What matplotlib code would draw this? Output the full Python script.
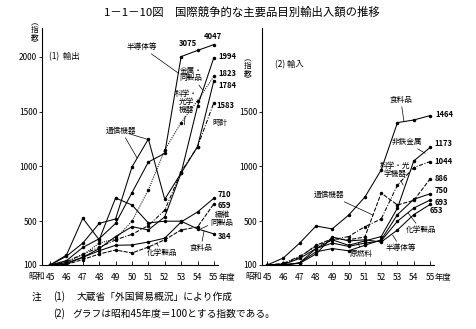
import numpy as np
import matplotlib
matplotlib.use("Agg")
import matplotlib.pyplot as plt

plt.rcParams["font.family"] = ["Noto Sans CJK JP", "DejaVu Sans"]

# fiscal years (Showa 45 = 1970), index with 45 = 100
years = [45, 46, 47, 48, 49, 50, 51, 52, 53, 54, 55]
year_labels = ["45", "46", "47", "48", "49", "50", "51", "52", "53", "54", "55"]
export_ticks = [100, 500, 1000, 1500, 2000]
import_ticks = [100, 500, 1000, 1500]

# (1) exports
exp_semicon = [100, 140, 260, 340, 480, 760, 1040, 1120, 2050, 3075, 4047]
exp_metal = [100, 110, 170, 250, 360, 450, 420, 540, 940, 1550, 1994]
exp_optical = [100, 130, 190, 300, 340, 500, 785, 1150, 1400, 1600, 1823]
exp_telecom = [100, 180, 300, 480, 520, 995, 1250, 700, 940, 1180, 1784]
exp_watch = [100, 130, 200, 260, 330, 380, 460, 600, 950, 1180, 1583]
exp_chemical = [100, 120, 170, 230, 280, 283, 310, 345, 493, 584, 710]
exp_textile = [100, 105, 150, 200, 237, 210, 264, 330, 420, 447, 659]
exp_food = [100, 190, 527, 330, 712, 648, 484, 500, 500, 430, 384]

# (2) imports
imp_food = [100, 164, 300, 456, 430, 555, 720, 968, 1400, 1424, 1464]
imp_nonferrous = [100, 95, 120, 250, 330, 280, 320, 360, 620, 1050, 1173]
imp_optical = [100, 115, 180, 270, 330, 360, 450, 520, 830, 990, 1044]
imp_telecom = [100, 110, 170, 280, 340, 330, 356, 757, 648, 690, 886]
imp_chemical = [100, 105, 160, 250, 300, 270, 300, 320, 500, 620, 693]
imp_semicon = [100, 100, 120, 220, 250, 230, 280, 330, 560, 700, 750]
imp_fuel = [100, 105, 115, 200, 356, 320, 330, 310, 420, 560, 653]

# values above 2000 are squeezed into a narrow band at the top
BREAK = 2000
SQUEEZE = 0.055


def squeeze(v):
    v = np.asarray(v, dtype=float)
    return np.where(v > BREAK, BREAK + (v - BREAK) * SQUEEZE, v)


def unsqueeze(v):
    v = np.asarray(v, dtype=float)
    return np.where(v > BREAK, BREAK + (v - BREAK) / SQUEEZE, v)


LINE = dict(color="black", lw=0.75, marker="o", ms=1.5)
SMALL = 5.5
NUM = dict(fontsize=5.5, fontweight="bold", textcoords="offset points",
           ha="left", va="center")
LEADER = dict(arrowstyle="-", lw=0.5, color="black", shrinkA=0, shrinkB=0)
TICK_FS = 6


def style_axes(ax, ticks):
    for side in ("top", "right"):
        ax.spines[side].set_visible(False)
    ax.spines["left"].set_linewidth(0.8)
    ax.spines["bottom"].set_linewidth(0.8)
    ax.set_yticks(ticks)
    ax.set_yticklabels([str(t) for t in ticks])
    ax.set_xticks(years)
    ax.set_xticklabels(year_labels)
    ax.tick_params(axis="y", direction="out", length=2.5, width=0.6,
                   labelsize=TICK_FS, pad=1)
    ax.tick_params(axis="x", direction="in", length=3, width=0.6,
                   labelsize=TICK_FS, pad=6)
    ax.minorticks_off()
    trans = ax.get_xaxis_transform()
    ax.text(44.68, -0.05, "昭和", transform=trans,
            ha="right", va="center", fontsize=TICK_FS)
    ax.text(55.3, -0.05, "年度", transform=trans,
            ha="left", va="center", fontsize=TICK_FS)


def end_label(ax, text, value, dx, dy, x=55, ha="left"):
    ax.annotate(text, xy=(x, value), xytext=(dx, dy), **{**NUM, "ha": ha})


def note(ax, text, xytext, xy=None, **kw):
    kw.setdefault("fontsize", SMALL)
    kw.setdefault("ha", "center")
    kw.setdefault("va", "center")
    if xy is None:
        ax.text(xytext[0], xytext[1], text, **kw)
    else:
        ax.annotate(text, xy=xy, xytext=xytext, arrowprops=LEADER, **kw)


fig = plt.figure(figsize=(4.76, 3.29), dpi=100)

# ---- (1) exports ----
ax1 = fig.add_axes([42 / 476, 64 / 329, 176 / 476, 237 / 329])
ax1.set_yscale("function", functions=(squeeze, unsqueeze))
ax1.plot(years, exp_semicon, "-", **LINE)
ax1.plot(years, exp_metal, "-", **LINE)
ax1.plot(years, exp_optical, linestyle=(0, (1, 1.2)), **LINE)
ax1.plot(years, exp_telecom, "-", **LINE)
ax1.plot(years, exp_watch, linestyle=(0, (4, 1.5, 1, 1.5)), **LINE)
ax1.plot(years, exp_chemical, "-", **LINE)
ax1.plot(years, exp_textile, linestyle=(0, (4, 1.2)), **LINE)
ax1.plot(years, exp_food, "-", **LINE)
ax1.set_xlim(44.51, 55.25)
ax1.set_ylim(100, float(unsqueeze(2264)))
style_axes(ax1, export_ticks)

end_label(ax1, "4047", exp_semicon[-1], -1, 6, ha="center")
end_label(ax1, "3075", exp_semicon[-2], -7, 5, x=54, ha="center")
end_label(ax1, "1994", exp_metal[-1], 3, 0.5)
end_label(ax1, "1823", exp_optical[-1], 3, 2)
end_label(ax1, "1784", exp_telecom[-1], 3, -3.5)
end_label(ax1, "1583", exp_watch[-1], 2, -2)
end_label(ax1, "710", exp_chemical[-1], 3, 3)
end_label(ax1, "659", exp_textile[-1], 3, -1)
end_label(ax1, "384", exp_food[-1], 3, -2)

note(ax1, "(1)  輸出", (44.95, 2000), ha="left", fontsize=6)
note(ax1, "半導体等", (50.6, float(unsqueeze(2090))), xy=(52.85, 1850))
note(ax1, "金属・\n同製品", (53.6, 1840), xy=(54.3, 1700),
     linespacing=0.95)
note(ax1, "科学・\n光学\n機器", (53.3, 1590), xy=(53.2, 1380),
     linespacing=0.95)
note(ax1, "時計", (55.4, 1400))
note(ax1, "通信機器", (49.36, 1324), xy=(50.3, 1080))
note(ax1, "", (49.8, 1300), xy=(51.0, 1245))
note(ax1, "繊維\n同製品", (55.5, 520), xy=(54.2, 430), linespacing=0.95)
note(ax1, "化学製品", (51.85, 210), xy=(51.5, 300))
note(ax1, "食料品", (54.2, 255), xy=(54.4, 410))

# ---- (2) imports ----
ax2 = fig.add_axes([262 / 476, 64 / 329, 172 / 476, 237 / 329])
ax2.plot(years, imp_food, "-", **LINE)
ax2.plot(years, imp_nonferrous, "-", **LINE)
ax2.plot(years, imp_optical, linestyle=(0, (4, 1.5, 1, 1.5)), **LINE)
ax2.plot(years, imp_telecom, linestyle=(0, (4, 1.5)), **LINE)
ax2.plot(years, imp_chemical, "-", **LINE)
ax2.plot(years, imp_semicon, "-", **LINE)
ax2.plot(years, imp_fuel, "-", **LINE)
ax2.set_xlim(44.69, 55.24)
ax2.set_ylim(100, 2264)
style_axes(ax2, import_ticks)

end_label(ax2, "1464", imp_food[-1], 3.6, 0.7)
end_label(ax2, "1173", imp_nonferrous[-1], 3, 3)
end_label(ax2, "1044", imp_optical[-1], 3, 0)
end_label(ax2, "886", imp_telecom[-1], 3, 0)
end_label(ax2, "750", imp_semicon[-1], 3, 2.5)
end_label(ax2, "693", imp_chemical[-1], 3, -1.5)
end_label(ax2, "653", imp_fuel[-1], 0, -4.5)

note(ax2, "(2) 輸入", (45.5, 1926), ha="left", fontsize=6)
note(ax2, "食料品", (53.2, 1607), xy=(53.4, 1410))
note(ax2, "非鉄金属", (53.55, 1223), xy=(54.7, 1120))
note(ax2, "科学・光\n学機器", (52.85, 968), xy=(53.35, 830),
     linespacing=0.95)
note(ax2, "通信機器", (48.83, 739), xy=(51.5, 556))
note(ax2, "化学製品", (54.45, 420), xy=(53.65, 575))
note(ax2, "半導体等", (53.2, 255), xy=(52.7, 374))
note(ax2, "原燃料", (50.8, 200), xy=(50.6, 300))

# vertical "(指数)" captions
fig.text(35 / 476, 1 - 34 / 329, "︵\n指\n数\n︶", ha="center", va="center",
         fontsize=5.5, linespacing=0.85)
fig.text(248 / 476, 1 - 70 / 329, "︵\n指\n数\n︶", ha="center", va="center",
         fontsize=5.5, linespacing=0.85)

fig.text(242 / 476, 1 - 12 / 329,
         "1－1－10図　国際競争的な主要品目別輸出入額の推移",
         ha="center", va="center", fontsize=8.2)

fig.text(32 / 476, 1 - 297 / 329, "注", va="center", fontsize=7)
fig.text(53 / 476, 1 - 297 / 329, "(1)", va="center", fontsize=7)
fig.text(77 / 476, 1 - 297 / 329, "大蔵省「外国貿易概況」により作成",
         va="center", fontsize=7)
fig.text(53 / 476, 1 - 314 / 329, "(2)", va="center", fontsize=7)
fig.text(72 / 476, 1 - 314 / 329, "グラフは昭和45年度＝100とする指数である。",
         va="center", fontsize=7)

fig.savefig("out.png", dpi=100)
